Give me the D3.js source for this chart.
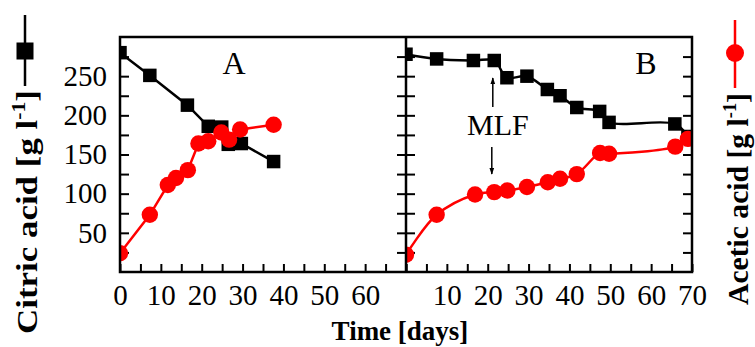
<!DOCTYPE html>
<html>
<head>
<meta charset="utf-8">
<script src="https://cdn.jsdelivr.net/npm/d3@7"></script>
<style>
  html, body { margin: 0; padding: 0; background: #fff; }
  svg { display: block; }
  text { font-family: "Liberation Serif", "Times New Roman", serif; }
</style>
</head>
<body>
<svg id="chart" width="755" height="347"></svg>
<script>
// ─── Data ──────────────────────────────────────────────────
const daysCitricA = [0, 7.3, 16.5, 21.6, 24.9, 26.5, 29.7, 37.6];
const citricA = [280, 251, 213, 186, 185, 163, 164, 141];
const daysAceticA = [0, 7.3, 11.7, 13.7, 16.6, 19.2, 21.6, 24.8, 26.7, 29.4, 37.6];
const aceticA = [24, 73, 111, 120, 130, 164, 167, 178, 169, 182, 188];

const daysCitricB = [0, 7.5, 16.5, 21.6, 24.7, 29.6, 34.6, 37.7, 41.8, 47.4, 49.7, 65.8, 69];
const citricB = [278, 272, 270, 270, 248, 250, 233, 225, 210, 205, 191, 189, 173];
const daysAceticB = [0, 7.5, 16.9, 21.6, 24.8, 29.6, 34.7, 37.7, 41.8, 47.5, 49.7, 65.9, 69];
const aceticB = [22, 73, 99, 102, 104, 108.5, 114.5, 119, 125, 152, 151, 160, 170];

const xTicks = [0, 5, 10, 15, 20, 25, 30, 35, 40, 45, 50, 55, 60, 65, 70];
const xLabelsA = [0, 10, 20, 30, 40, 50, 60];
const xLabelsB = [10, 20, 30, 40, 50, 60, 70];
const yTicks = [25, 50, 75, 100, 125, 150, 175, 200, 225, 250, 275];
const yLabels = [50, 100, 150, 200, 250];
const mlfDay = 21;

// ─── Layout ─────────────────────────────────────────────────
const plotTop = 37, plotBottom = 272;
const leftA = 120, split = 406, rightB = 692;
const RED = "#ff0000";

const svg = d3.select("#chart");
const y = d3.scaleLinear().domain([0, 300]).range([plotBottom, plotTop]);
const xA = d3.scaleLinear().domain([0, 70]).range([leftA, split]);
const xB = d3.scaleLinear().domain([0, 70]).range([split, rightB]);

const zip = (xs, ys) => xs.map((d, i) => [d, ys[i]]);

function styleAxis(g) {
  g.attr("font-size", 29);
  g.select(".domain").remove();
  g.selectAll(".tick line").attr("stroke", "#000").attr("stroke-width", 2);
  g.selectAll(".tick text").attr("fill", "#000");
}

function drawPanel(id, x, labels, citric, acetic, curve) {
  const x0 = x.range()[0], x1 = x.range()[1];

  svg.append("clipPath").attr("id", "clip" + id)
    .append("rect").attr("x", x0).attr("y", plotTop).attr("width", x1 - x0).attr("height", plotBottom - plotTop);

  svg.append("g").attr("transform", `translate(0,${plotBottom})`)
    .call(d3.axisBottom(x).tickValues(xTicks).tickSize(-8).tickSizeOuter(0).tickPadding(12)
      .tickFormat(d => labels.includes(d) ? d : ""))
    .call(styleAxis);

  svg.append("g").attr("transform", `translate(${x0},0)`)
    .call(d3.axisLeft(y).tickValues(yTicks).tickSize(-9).tickSizeOuter(0).tickPadding(13)
      .tickFormat(d => (id === "A" && yLabels.includes(d)) ? d : ""))
    .call(styleAxis);

  svg.append("g").attr("transform", `translate(${x1},0)`)
    .call(d3.axisRight(y).tickValues(yTicks).tickSize(-9).tickSizeOuter(0).tickFormat(""))
    .call(styleAxis);

  const plot = svg.append("g").attr("clip-path", `url(#clip${id})`);
  const line = d3.line().x(d => x(d[0])).y(d => y(d[1])).curve(curve);

  plot.append("path").datum(citric).attr("d", line)
    .attr("fill", "none").attr("stroke", "#000").attr("stroke-width", 2.5);
  plot.selectAll(".sq").data(citric).join("rect")
    .attr("x", d => x(d[0]) - 6.75).attr("y", d => y(d[1]) - 6.75)
    .attr("width", 13.5).attr("height", 13.5).attr("fill", "#000");

  plot.append("path").datum(acetic).attr("d", line)
    .attr("fill", "none").attr("stroke", RED).attr("stroke-width", 2.5);
  plot.selectAll(".ci").data(acetic).join("circle")
    .attr("cx", d => x(d[0])).attr("cy", d => y(d[1])).attr("r", 8.2).attr("fill", RED);
}

drawPanel("A", xA, xLabelsA, zip(daysCitricA, citricA), zip(daysAceticA, aceticA), d3.curveLinear);
drawPanel("B", xB, xLabelsB, zip(daysCitricB, citricB), zip(daysAceticB, aceticB), d3.curveCatmullRom.alpha(0.5));

// Frame
svg.append("path")
  .attr("d", `M${leftA},${plotTop}H${rightB}V${plotBottom}H${leftA}Z M${split},${plotTop}V${plotBottom}`)
  .attr("fill", "none").attr("stroke", "#000").attr("stroke-width", 2.5);

// Panel letters
svg.append("text").attr("x", 234).attr("y", 74).attr("text-anchor", "middle")
  .attr("font-size", 32).text("A");
svg.append("text").attr("x", 646).attr("y", 74).attr("text-anchor", "middle")
  .attr("font-size", 32).text("B");

// MLF annotation
const defs = svg.append("defs");
defs.append("marker").attr("id", "arr").attr("viewBox", "0 0 10 10")
  .attr("refX", 9).attr("refY", 5).attr("markerWidth", 7).attr("markerHeight", 7)
  .attr("markerUnits", "userSpaceOnUse").attr("orient", "auto")
  .append("path").attr("d", "M0,1.5L10,5L0,8.5Z").attr("fill", "#000");
const xm = xB(mlfDay);
svg.append("line").attr("x1", xm + 1).attr("x2", xm + 1).attr("y1", 107).attr("y2", 78)
  .attr("stroke", "#000").attr("stroke-width", 1.5).attr("marker-end", "url(#arr)");
svg.append("line").attr("x1", xm).attr("x2", xm).attr("y1", 147).attr("y2", 174)
  .attr("stroke", "#000").attr("stroke-width", 1.5).attr("marker-end", "url(#arr)");
svg.append("text").attr("x", xm + 6).attr("y", 135).attr("text-anchor", "middle")
  .attr("font-size", 30).text("MLF");

// X title
svg.append("text").attr("x", 400).attr("y", 340).attr("text-anchor", "middle")
  .attr("font-size", 27).attr("font-weight", "bold").text("Time [days]");

// Rotated axis title, stretched along its length to the span seen in the picture
function yTitle(label, x, yStart, length, size) {
  const t = svg.append("text").attr("font-size", size).attr("font-weight", "bold");
  t.append("tspan").text(label + " [g l");
  t.append("tspan").attr("font-size", size * 0.62).attr("dy", -size * 0.4).text("-1");
  t.append("tspan").attr("dy", size * 0.4).text("]");
  const natural = t.node().getComputedTextLength();
  t.attr("transform", `translate(${x},${yStart}) rotate(-90) scale(${length / natural},1)`);
}

// Left Y title + legend key
yTitle("Citric acid", 37, 334, 244, 30);
svg.append("line").attr("x1", 25).attr("x2", 25).attr("y1", 15).attr("y2", 86)
  .attr("stroke", "#000").attr("stroke-width", 2.5);
svg.append("rect").attr("x", 25 - 8.5).attr("y", 51 - 8.5).attr("width", 17).attr("height", 17).attr("fill", "#000");

// Right Y title + legend key
yTitle("Acetic acid", 748, 305, 212, 29);
svg.append("line").attr("x1", 735).attr("x2", 735).attr("y1", 20).attr("y2", 88)
  .attr("stroke", RED).attr("stroke-width", 2.5);
svg.append("circle").attr("cx", 735).attr("cy", 53).attr("r", 9).attr("fill", RED);
</script>
</body>
</html>
